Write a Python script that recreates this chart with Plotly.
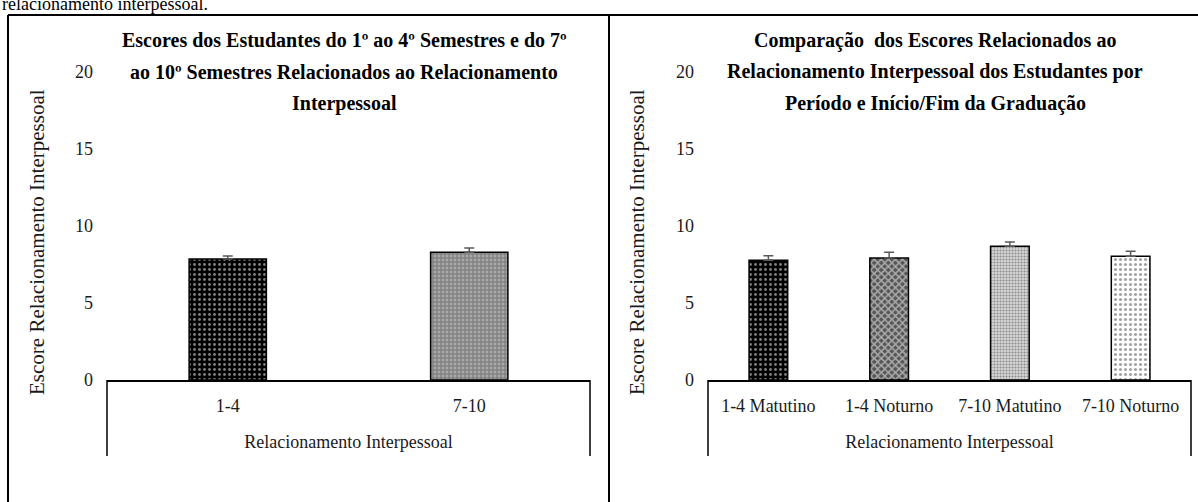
import plotly.graph_objects as go

# ---------------- data ----------------
left_categories = ["1-4", "7-10"]
left_values = [7.86, 8.29]
left_errors = [0.20, 0.28]

right_categories = ["1-4 Matutino", "1-4 Noturno", "7-10 Matutino", "7-10 Noturno"]
right_values = [7.77, 7.92, 8.68, 8.03]
right_errors = [0.30, 0.37, 0.28, 0.33]

y_tick_values = [0, 5, 10, 15, 20]

left_title_lines = [
    "Escores dos Estudantes do 1º ao 4º Semestres e do 7º",
    "ao 10º Semestres Relacionados ao Relacionamento",
    "Interpessoal",
]
right_title_lines = [
    "Comparação  dos Escores Relacionados ao",
    "Relacionamento Interpessoal dos Estudantes por",
    "Período e Início/Fim da Graduação",
]
y_axis_title = "Escore Relacionamento Interpessoal"
x_axis_title = "Relacionamento Interpessoal"
top_text = "relacionamento interpessoal."

# ---------------- layout helpers ----------------
W, H = 1198, 502
FONT = "Liberation Serif"


def px_x(x):
    return x / W


def px_y(y):
    return (H - y) / H


fig = go.Figure()

# left chart bars
fig.add_trace(go.Bar(
    x=left_categories, y=left_values,
    xaxis="x", yaxis="y",
    marker=dict(
        color=["#000000", "#a8a8a8"],
        line=dict(color="#000000", width=1.5),
        pattern=dict(
            shape=[".", "+"],
            fgcolor=["#ffffff", "#3a3a3a"],
            size=[5, 4],
            solidity=[0.25, 0.45],
            fillmode="overlay",
        ),
    ),
    error_y=dict(type="data", symmetric=False, array=left_errors,
                 arrayminus=[0] * len(left_errors),
                 color="#595959", thickness=1.5, width=5),
    showlegend=False,
))

# right chart bars
fig.add_trace(go.Bar(
    x=right_categories, y=right_values,
    xaxis="x2", yaxis="y2",
    marker=dict(
        color=["#000000", "#555555", "#d6d6d6", "#ffffff"],
        line=dict(color="#000000", width=1.5),
        pattern=dict(
            shape=[".", "x", ".", "."],
            fgcolor=["#ffffff", "#000000", "#444444", "#111111"],
            size=[5, 5, 3, 5],
            solidity=[0.25, 0.5, 0.4, 0.3],
            fillmode="overlay",
        ),
    ),
    error_y=dict(type="data", symmetric=False, array=right_errors,
                 arrayminus=[0] * len(right_errors),
                 color="#595959", thickness=1.5, width=5),
    showlegend=False,
))

axis_font = dict(family=FONT, size=18, color="#1a1a1a")

y_common = dict(
    range=[0, 20], tickvals=y_tick_values, showgrid=False, zeroline=False,
    showline=False, ticks="", tickfont=axis_font, ticklabelstandoff=13,
    domain=[px_y(380), px_y(72)], fixedrange=True, automargin=False,
)
x_common = dict(
    type="category", showgrid=False, zeroline=False, showline=True,
    linecolor="#000000", linewidth=1.5, ticks="", tickfont=axis_font,
    ticklabelstandoff=9, automargin=False,
    title=dict(text=x_axis_title, font=axis_font, standoff=20),
    fixedrange=True,
)

fig.update_layout(
    width=W, height=H, autosize=False,
    margin=dict(l=0, r=0, t=0, b=0, pad=0, autoexpand=False),
    paper_bgcolor="#ffffff", plot_bgcolor="#ffffff",
    bargap=0.68,
    showlegend=False,
    xaxis=dict(domain=[px_x(107), px_x(590)], anchor="y", **x_common),
    yaxis=dict(anchor="x", **y_common),
    xaxis2=dict(domain=[px_x(708), px_x(1191)], anchor="y2", **x_common),
    yaxis2=dict(anchor="x2", **y_common),
)

shapes = []
# document frame
shapes.append(dict(type="line", xref="paper", yref="paper",
                   x0=px_x(8), x1=1.0, y0=px_y(15), y1=px_y(15),
                   line=dict(color="#000000", width=2)))
for xp in (8, 609):
    shapes.append(dict(type="line", xref="paper", yref="paper",
                       x0=px_x(xp), x1=px_x(xp), y0=px_y(15), y1=0,
                       line=dict(color="#000000", width=2)))
# category box verticals
for xr in ("x domain", "x2 domain"):
    for xv in (0, 1):
        shapes.append(dict(type="line", xref=xr, yref="paper",
                           x0=xv, x1=xv, y0=px_y(380), y1=px_y(456),
                           line=dict(color="#000000", width=1.5)))
fig.update_layout(shapes=shapes)

annotations = []
annotations.append(dict(text=top_text, xref="paper", yref="paper",
                        x=px_x(0), y=px_y(4), xanchor="left", yanchor="middle",
                        showarrow=False, font=dict(family=FONT, size=18, color="#000000")))
title_rows = [40, 72, 103]
for lines, cx in ((left_title_lines, 344), (right_title_lines, 935)):
    for line, ry in zip(lines, title_rows):
        annotations.append(dict(text="<b>" + line + "</b>", xref="paper", yref="paper",
                                x=px_x(cx), y=px_y(ry), xanchor="center", yanchor="middle",
                                showarrow=False,
                                font=dict(family=FONT, size=20, color="#000000")))
for cx in (37, 637):
    annotations.append(dict(text=y_axis_title, xref="paper", yref="paper",
                            x=px_x(cx), y=px_y(242), xanchor="center", yanchor="middle",
                            textangle=-90, showarrow=False,
                            font=dict(family=FONT, size=21, color="#1a1a1a")))
fig.update_layout(annotations=annotations)

fig.write_html(
    "out.html",
    config={"displayModeBar": False, "responsive": False},
    post_script="document.body.style.margin='0';document.body.style.overflow='hidden';",
)
